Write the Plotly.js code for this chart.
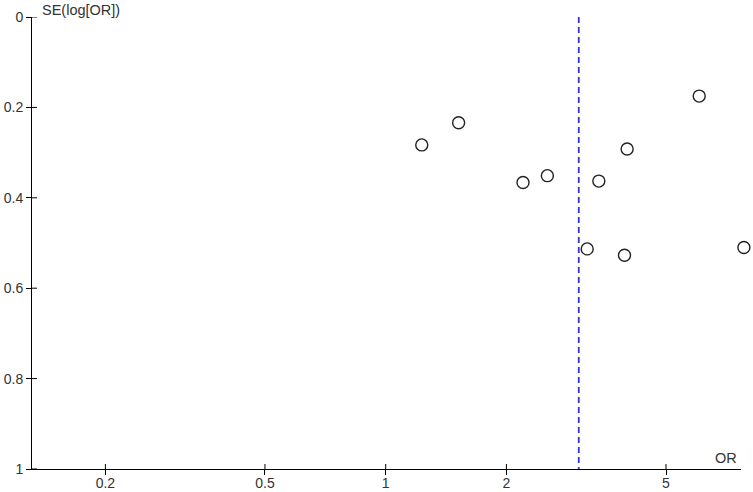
<!DOCTYPE html>
<html>
<head>
<meta charset="utf-8">
<script src="https://cdn.plot.ly/plotly-3.0.1.min.js"></script>
<style>html,body{margin:0;padding:0;background:#fff;}#chart{width:753px;height:492px;}</style>
</head>
<body>
<div id="chart"></div>
<script>
// Study odds ratios and their standard errors of log(OR)
const oddsRatios = [1.23, 1.52, 2.20, 2.53, 3.40, 4.00, 3.18, 3.94, 6.05, 7.82];
const seLogOR    = [0.283, 0.234, 0.366, 0.351, 0.363, 0.292, 0.513, 0.527, 0.175, 0.510];
const pooledOR = 3.03;
const xTickVals = [0.2, 0.5, 1, 2, 5];
const xTickText = ['0.2', '0.5', '1', '2', '5'];
const yTickVals = [0, 0.2, 0.4, 0.6, 0.8, 1];
const yTickText = ['0', '0.2', '0.4', '0.6', '0.8', '1'];
const xTitle = 'OR';
const yTitle = 'SE(log[OR])';

const W = 753, H = 492;
const margin = {l: 32, r: 4, t: 17, b: 23, pad: 0};
const plotW = W - margin.l - margin.r, plotH = H - margin.t - margin.b;
const axisW = 709;                       // drawn axis length in px
const axisFrac = axisW / plotW;
const xRange = [-0.882, 0.886];
// wider, invisible axis so the outermost study marker is not hidden
const xRangeWide = [xRange[0], xRange[0] + (xRange[1] - xRange[0]) / axisFrac];
const yRange = [1, 0];
const TICK = 5;
const font = {family: 'Liberation Sans, Arial, sans-serif', size: 14, color: '#333'};

const traces = [
  {
    x: [pooledOR, pooledOR], y: [yRange[1], yRange[0]],
    mode: 'lines', type: 'scatter', hoverinfo: 'skip',
    line: {color: '#3535d0', width: 1.8, dash: '6px,4px'},
    cliponaxis: false
  },
  {
    x: oddsRatios, y: seLogOR, xaxis: 'x2', yaxis: 'y',
    mode: 'markers', type: 'scatter',
    marker: {symbol: 'circle-open', size: 12, color: '#222', line: {width: 1.4, color: '#222'}},
    cliponaxis: false
  }
];

// inner halves of the crossing tick marks
const shapes = [];
xTickVals.forEach(v => shapes.push({type: 'line', xref: 'x', yref: 'paper',
  x0: v, x1: v, y0: 0, y1: TICK / plotH, line: {color: '#000', width: 1}}));
yTickVals.forEach(v => shapes.push({type: 'line', xref: 'paper', yref: 'y',
  x0: 0, x1: TICK / plotW, y0: v, y1: v, line: {color: '#000', width: 1}}));

const axisCommon = {showgrid: false, zeroline: false, fixedrange: true,
  showline: true, linecolor: '#000', linewidth: 1,
  ticks: 'outside', ticklen: TICK, tickwidth: 1, tickcolor: '#000', tickfont: font};

const layout = {
  width: W, height: H, margin: margin,
  paper_bgcolor: '#fff', plot_bgcolor: 'rgba(0,0,0,0)',
  showlegend: false, font: font,
  xaxis: Object.assign({}, axisCommon, {
    type: 'log', range: xRange, domain: [0, axisFrac],
    tickvals: xTickVals, ticktext: xTickText, ticklabelstandoff: -4
  }),
  xaxis2: {type: 'log', range: xRangeWide, domain: [0, 1], anchor: 'y',
    visible: false, fixedrange: true},
  yaxis: Object.assign({}, axisCommon, {
    range: yRange, tickvals: yTickVals, ticktext: yTickText
  }),
  shapes: shapes,
  annotations: [
    {text: yTitle, xref: 'paper', yref: 'paper', x: 8 / plotW, y: 1.0155,
     xanchor: 'left', yanchor: 'middle', showarrow: false,
     font: {family: font.family, size: 14.5, color: '#333'}},
    {text: xTitle, xref: 'paper', yref: 'paper', x: 707 / plotW, y: 0.0243,
     xanchor: 'right', yanchor: 'middle', showarrow: false,
     font: {family: font.family, size: 14.5, color: '#333'}}
  ]
};

Plotly.newPlot('chart', traces, layout, {displayModeBar: false, staticPlot: true});
</script>
</body>
</html>
